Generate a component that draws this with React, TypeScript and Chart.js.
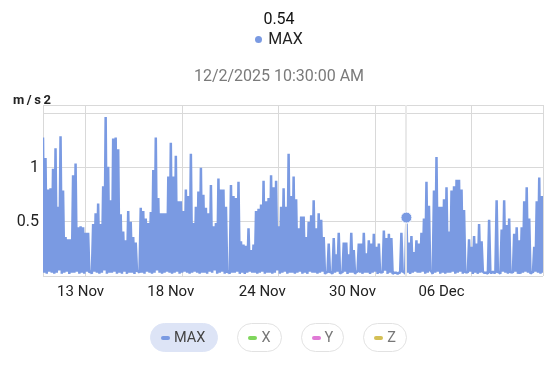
import React, { useEffect, useRef } from "react";
import { Chart, registerables } from "chart.js";

Chart.register(...registerables);

// ---- data ----
const seriesName = "MAX";
const unitLabel = "m/s2";
const hoverTimeLabel = "12/2/2025 10:30:00 AM";
const hoverIndex = 290;

const peakValues = [
  1.28, 1.09, 0.80, 0.81, 0.99, 1.18, 0.64, 1.29, 0.79, 0.36,
  0.34, 0.34, 0.93, 1.04, 0.45, 0.46, 0.45, 0.40, 0.40, 0.05,
  0.48, 0.58, 0.67, 0.48, 0.83, 1.47, 1.01, 0.70, 1.27, 1.28,
  1.17, 0.57, 0.41, 0.33, 0.60, 0.50, 0.36, 0.31, 0.05, 0.63,
  0.60, 0.53, 0.49, 0.59, 0.98, 1.28, 0.72, 0.58, 0.58, 0.58,
  0.92,
  1.23, 0.92, 1.11, 0.69, 0.69, 0.60, 0.80, 0.74, 1.13, 0.49,
  0.64, 0.78, 1.00, 0.75, 0.63, 0.58, 0.84, 0.46, 0.49, 0.90,
  0.80, 0.80, 0.64, 0.05, 0.84, 0.74, 0.72, 0.87, 0.32, 0.29,
  0.28, 0.44, 0.24, 0.29, 0.60, 0.62, 0.66, 0.88, 0.69, 0.72,
  0.93, 0.82, 0.88, 0.46, 0.64, 0.81, 0.64, 1.13, 0.74, 0.92,
  0.71, 0.44, 0.55, 0.55, 0.36, 0.50, 0.56, 0.70, 0.44, 0.58,
  0.52, 0.36, 0.04, 0.30, 0.04, 0.35, 0.20, 0.40, 0.04, 0.31,
  0.31, 0.20, 0.40, 0.24, 0.04, 0.30, 0.30, 0.40, 0.21, 0.33,
  0.30, 0.39, 0.27, 0.30, 0.04, 0.42, 0.35, 0.39, 0.35, 0.03,
  0.03, 0.03, 0.40, 0.04, 0.54, 0.31, 0.37, 0.22, 0.33, 0.30,
  0.40, 0.53, 0.87, 0.65, 0.04, 0.79, 1.10, 0.64, 0.64, 0.71,
  0.82, 0.41, 0.79, 0.83, 0.89, 0.89, 0.80, 0.61, 0.04, 0.34,
  0.27, 0.37, 0.30, 0.48, 0.32, 0.03, 0.03, 0.52, 0.03, 0.03,
  0.70, 0.04, 0.43, 0.70, 0.47, 0.53, 0.04, 0.39, 0.45, 0.33,
  0.45, 0.69, 0.82, 0.53, 0.04, 0.27, 0.69, 0.91, 0.74,
];

const troughValues = [
  0.03, 0.02, 0.04, 0.03, 0.02, 0.03, 0.05, 0.02, 0.03, 0.04,
  0.02, 0.03, 0.03, 0.04, 0.02, 0.03, 0.02, 0.04, 0.03, 0.02,
  0.04, 0.03, 0.02, 0.03, 0.05, 0.02, 0.03, 0.03, 0.04, 0.02,
  0.03, 0.02, 0.04, 0.02, 0.03, 0.03, 0.02, 0.04, 0.03, 0.03,
  0.02, 0.04, 0.03, 0.02, 0.03, 0.05, 0.03, 0.02, 0.03, 0.04,
  0.03, 0.02, 0.03, 0.04, 0.02, 0.03, 0.04, 0.03, 0.02, 0.03,
  0.04, 0.03, 0.02, 0.03, 0.03, 0.02, 0.04, 0.03, 0.05, 0.02,
  0.03, 0.04, 0.02, 0.03, 0.02, 0.03, 0.03, 0.04, 0.02, 0.03,
  0.02, 0.03, 0.04, 0.03, 0.03, 0.02, 0.03, 0.04, 0.02, 0.03,
  0.03, 0.02, 0.03, 0.05, 0.02, 0.03, 0.04, 0.02, 0.03, 0.03,
  0.02, 0.03, 0.04, 0.02, 0.03, 0.02, 0.04, 0.03, 0.03, 0.02,
  0.03, 0.04, 0.02, 0.03, 0.03, 0.02, 0.03, 0.04, 0.02, 0.03,
  0.04, 0.02, 0.03, 0.03, 0.02, 0.04, 0.03, 0.02, 0.03, 0.03,
  0.02, 0.03, 0.04, 0.02, 0.03, 0.03, 0.05, 0.02, 0.03, 0.02,
  0.03, 0.02, 0.03, 0.04, 0.02, 0.03, 0.02, 0.03, 0.04, 0.03,
  0.03, 0.04, 0.02, 0.03, 0.05, 0.02, 0.03, 0.04, 0.02, 0.03,
  0.02, 0.03, 0.03, 0.04, 0.02, 0.03, 0.04, 0.02, 0.03, 0.03,
  0.04, 0.02, 0.03, 0.02, 0.03, 0.04, 0.03, 0.02, 0.03, 0.04,
  0.03, 0.03, 0.02, 0.04, 0.03, 0.02, 0.03, 0.03, 0.04, 0.02,
  0.02, 0.03, 0.04, 0.03, 0.02, 0.03, 0.04, 0.03, 0.02, 0.03,
];

const xTickLabels = ["13 Nov", "18 Nov", "24 Nov", "30 Nov", "06 Dec"];
const xTickIndices = [30, 102, 175, 247, 318];
const xGridIndices = [34, 111, 188, 265, 342];
const yGridValues = [0, 0.5, 1, 1.5, 1.58];
const yTickValues = [0.5, 1];
const yTickLabels = ["0.5", "1"];

const legendItems = [
  { name: "MAX", color: "#7a9ae2", active: true },
  { name: "X", color: "#7fd65c", active: false },
  { name: "Y", color: "#e07ad6", active: false },
  { name: "Z", color: "#d4c056", active: false },
];

const LINE_COLOR = "#7a9ae2";
const GRID_COLOR = "#d9d9d9";
const FONT = "Roboto, 'Noto Sans', sans-serif";

export default function App() {
  const canvasRef = useRef<HTMLCanvasElement | null>(null);

  useEffect(() => {
    const canvas = canvasRef.current;
    if (!canvas) return;
    const series = peakValues.flatMap((p, i) => [p, troughValues[i]]);
    const points = series.map((v, i) => ({ x: i, y: v }));
    const lastIndex = points.length - 1;

    const crosshair = {
      id: "crosshair",
      afterDatasetsDraw(chart: any) {
        const { ctx, chartArea } = chart;
        const xs = chart.scales.x;
        const px = Math.round(xs.getPixelForValue(hoverIndex));
        ctx.save();
        ctx.strokeStyle = "rgba(232,232,232,0.95)";
        ctx.lineWidth = 2;
        ctx.beginPath();
        ctx.moveTo(px, chartArea.top);
        ctx.lineTo(px, chartArea.bottom);
        ctx.stroke();
        ctx.restore();
        const meta = chart.getDatasetMeta(0);
        const el = meta.data[hoverIndex];
        if (el) el.draw(ctx, chartArea);
      },
    };

    const chart = new Chart(canvas, {
      type: "line",
      data: {
        datasets: [
          {
            label: seriesName,
            data: points,
            borderColor: LINE_COLOR,
            borderWidth: 2.5,
            borderJoinStyle: "bevel",
            tension: 0,
            fill: false,
            pointRadius: (c: any) => (c.dataIndex === hoverIndex ? 5.5 : 0),
            pointHoverRadius: 0,
            pointBackgroundColor: LINE_COLOR,
            pointBorderColor: "#ffffff",
            pointBorderWidth: 1,
          },
        ],
      },
      options: {
        animation: false,
        responsive: false,
        maintainAspectRatio: false,
        events: [],
        layout: { padding: { left: 0, right: 13, top: 105, bottom: 61 } },
        plugins: { legend: { display: false }, tooltip: { enabled: false } },
        scales: {
          x: {
            type: "linear",
            position: "bottom",
            min: 0,
            max: lastIndex,
            grid: { display: false, drawTicks: false },
            border: { display: false },
            afterBuildTicks: (s: any) => {
              s.ticks = xTickIndices.map((v) => ({ value: v }));
            },
            ticks: {
              autoSkip: false,
              maxRotation: 0,
              padding: 7,
              color: "#222",
              font: { size: 15, family: FONT },
              callback: (_v: any, i: number) => xTickLabels[i],
            },
            afterFit: (s: any) => {
              s.height = 30;
            },
          },
          xg: {
            type: "linear",
            position: "top",
            min: 0,
            max: lastIndex,
            grid: { color: GRID_COLOR, drawTicks: false, lineWidth: 1 },
            border: { display: false },
            ticks: { display: false },
            afterBuildTicks: (s: any) => {
              s.ticks = [0, ...xGridIndices, lastIndex].map((v) => ({ value: v }));
            },
            afterFit: (s: any) => {
              s.height = 0;
            },
          },
          y: {
            min: 0,
            max: 1.58,
            grid: { color: GRID_COLOR, drawTicks: false },
            border: { display: true, color: GRID_COLOR },
            afterBuildTicks: (s: any) => {
              s.ticks = yGridValues.map((v) => ({ value: v }));
            },
            ticks: {
              autoSkip: false,
              padding: 4,
              color: "#222",
              font: { size: 16, family: FONT },
              callback: (v: any) => {
                const k = yTickValues.indexOf(v);
                return k >= 0 ? yTickLabels[k] : "";
              },
            },
            afterFit: (s: any) => {
              s.width = 43;
            },
          },
        },
      } as any,
      plugins: [crosshair],
    });
    return () => chart.destroy();
  }, []);

  const hoverValue = (peakValues[hoverIndex / 2] ?? 0).toFixed(2);

  return (
    <div
      style={{
        position: "fixed",
        left: 0,
        top: 0,
        width: 556,
        height: 367,
        background: "#fff",
        fontFamily: FONT,
        overflow: "hidden",
      }}
    >
      <canvas
        ref={canvasRef}
        width={556}
        height={367}
        style={{ position: "absolute", left: 0, top: 0, width: 556, height: 367, display: "block" }}
      />
      <div
        style={{
          position: "absolute",
          left: 0,
          width: 558,
          top: 11,
          textAlign: "center",
          fontSize: 16,
          lineHeight: "16px",
          color: "#111",
        }}
      >
        {hoverValue}
      </div>
      <div
        style={{
          position: "absolute",
          left: 0,
          width: 558,
          top: 31,
          display: "flex",
          justifyContent: "center",
          alignItems: "center",
          fontSize: 16,
          lineHeight: "16px",
          color: "#222",
        }}
      >
        <span
          style={{
            display: "inline-block",
            width: 7,
            height: 7,
            borderRadius: 4,
            background: LINE_COLOR,
            marginRight: 6,
            marginTop: 1,
          }}
        />
        <span>{seriesName}</span>
      </div>
      <div
        style={{
          position: "absolute",
          left: 0,
          width: 558,
          top: 68,
          textAlign: "center",
          fontSize: 16,
          lineHeight: "16px",
          color: "#7a7a7a",
        }}
      >
        {hoverTimeLabel}
      </div>
      <div
        style={{
          position: "absolute",
          left: 13,
          top: 93,
          fontSize: 13,
          lineHeight: "13px",
          fontWeight: 700,
          letterSpacing: 2.6,
          color: "#222",
        }}
      >
        {unitLabel}
      </div>
      <div
        style={{
          position: "absolute",
          left: 0,
          width: 557,
          top: 323,
          display: "flex",
          justifyContent: "center",
          gap: 19,
        }}
      >
        {legendItems.map((it) => (
          <div
            key={it.name}
            style={{
              boxSizing: "border-box",
              height: 29,
              borderRadius: 15,
              padding: it.active ? "0 12px 0 10px" : "0 10px 0 10px",
              display: "flex",
              alignItems: "center",
              background: it.active ? "#dde4f6" : "#fff",
              border: it.active ? "1px solid #dde4f6" : "1px solid #e2e2e2",
              fontSize: 14.5,
              color: it.active ? "#444" : "#777",
            }}
          >
            <span
              style={{
                display: "inline-block",
                width: 9,
                height: 4,
                borderRadius: 2,
                background: it.color,
                marginRight: 4,
              }}
            />
            <span>{it.name}</span>
          </div>
        ))}
      </div>
    </div>
  );
}
